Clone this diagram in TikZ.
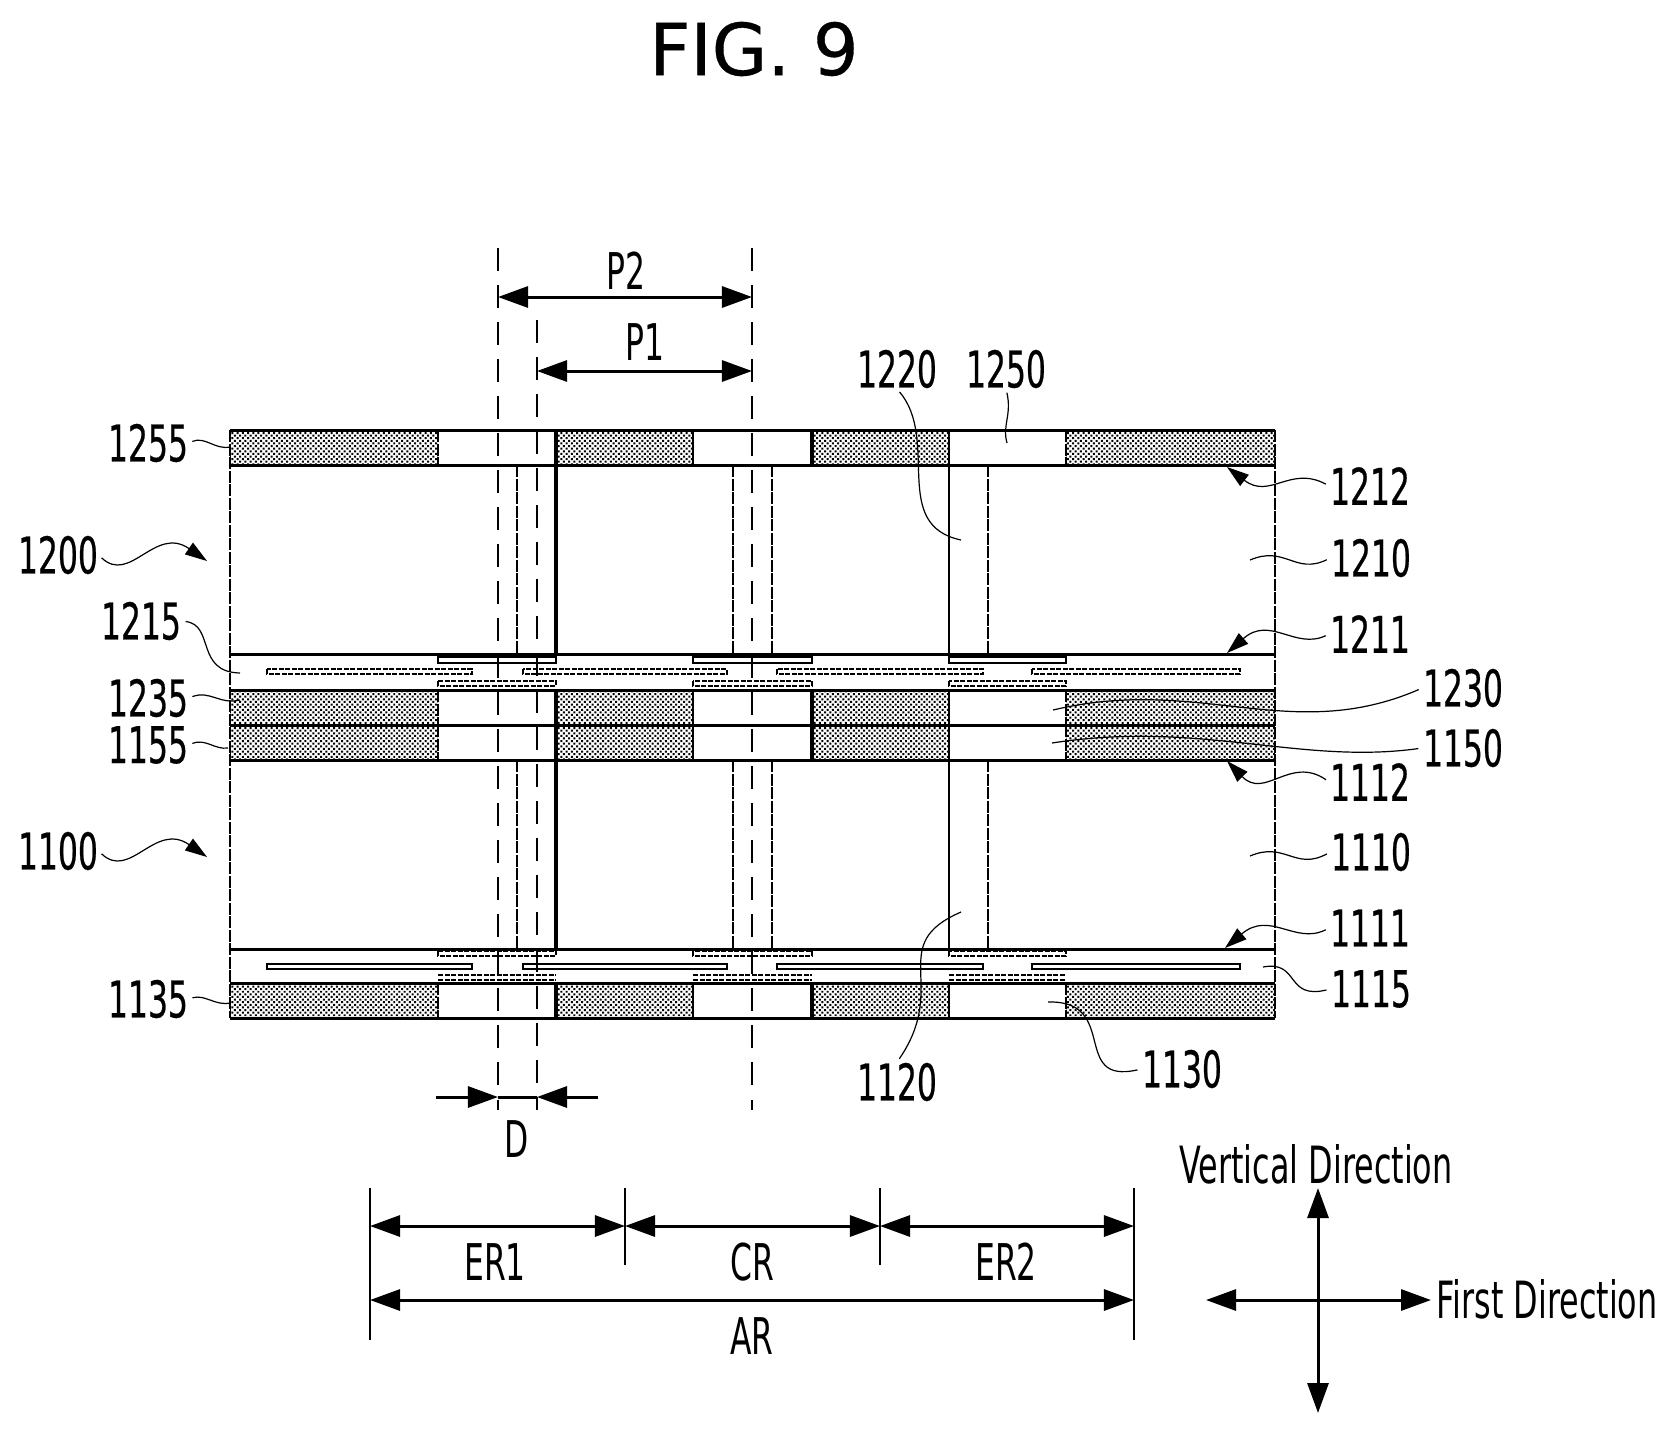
\documentclass[tikz,border=0pt]{standalone}
\usepackage{fontspec}
\usepackage{tikz}
\usetikzlibrary{arrows.meta,patterns.meta}
\setmainfont[FakeStretch=0.62]{DejaVu Sans}
\newfontfamily\numfont[FakeStretch=0.62,FakeBold=0.5]{DejaVu Sans}
\newfontfamily\titlefont[FakeBold=0.5]{DejaVu Sans}
\tikzset{
    bigtip/.tip={Triangle[length=0.3cm,width=0.21cm]},
    smalltip/.tip={Triangle[length=0.22cm,width=0.14cm]},
    lbl/.style={inner sep=0pt, font=\fontsize{14.4}{16}\selectfont},
    numlbl/.style={inner sep=0pt, font=\numfont\fontsize{14.4}{16}\selectfont},
    dirlbl/.style={inner sep=0pt, font=\fontsize{14.6}{16}\selectfont},
    layerline/.style={line width=0.03cm},
    wallthick/.style={line width=0.045cm},
    wallmid/.style={line width=0.032cm},
    wallthin/.style={line width=0.025cm},
    walldash/.style={line width=0.025cm, dash pattern=on 0.12cm off 0.015cm},
    guide/.style={line width=0.016cm, dash pattern=on 0.23cm off 0.14cm},
    dimline/.style={line width=0.03cm},
    tickline/.style={line width=0.022cm},
    leader/.style={line width=0.012cm, shorten <=0.04cm},
    stipple/.style={pattern={Dots[distance=1.05pt,radius=0.4pt,angle=45]}},
    padsolid/.style={line width=0.014cm},
    paddash/.style={line width=0.016cm, dash pattern=on 0.05cm off 0.015cm}
}

\begin{document}
\begin{tikzpicture}[x=0.01cm, y=-0.01cm]
        \useasboundingbox (0,0) rectangle (1676,1433);

        % Title
        \node[inner sep=0pt, font=\titlefont\fontsize{20.4}{24}\selectfont] (title) at (754,49) {FIG. 9};

        % Dotted blocks
        \foreach \ya/\yb in {430/465, 690/725, 725/760, 983/1018} {
            \foreach \xa/\xb in {230/438, 556/693, 812/949, 1066/1275} {
                \fill[stipple] (\xa,\ya) rectangle (\xb,\yb);
            }
            \draw[layerline] (230,\ya) -- (1275,\ya);
            \draw[layerline] (230,\yb) -- (1275,\yb);
            \draw[walldash] (438,\ya) -- (438,\yb);
            \draw[wallthick] (556,\ya) -- (556,\yb);
            \draw[wallthin] (693,\ya) -- (693,\yb);
            \draw[wallmid] (812,\ya) -- (812,\yb);
            \draw[wallthin] (949,\ya) -- (949,\yb);
            \draw[walldash] (1066,\ya) -- (1066,\yb);
        }

        % Body outline
        \draw[layerline] (230,654) -- (1275,654);
        \draw[layerline] (230,949) -- (1275,949);
        \draw[walldash] (230,430) -- (230,1018);
        \draw[walldash] (1275,430) -- (1275,1018);

        % Through vias
        \foreach \ya/\yb in {465/654, 760/949} {
            \draw[walldash] (517,\ya) -- (517,\yb);
            \draw[wallmid] (556,\ya) -- (556,\yb);
            \draw[walldash] (733,\ya) -- (733,\yb);
            \draw[walldash] (772,\ya) -- (772,\yb);
            \draw[wallthin] (949,\ya) -- (949,\yb);
            \draw[walldash] (988,\ya) -- (988,\yb);
        }

        % Pads and bars in the two wiring layers
        \foreach \xa/\xb in {438/556, 693/812, 949/1066} {
            \draw[padsolid] (\xa,657) rectangle (\xb,663);
            \draw[paddash] (\xa,681) rectangle (\xb,686);
            \draw[paddash] (\xa,951) rectangle (\xb,956);
            \draw[paddash] (\xa,975) -- (\xb,975);
            \draw[paddash] (\xa,980) -- (\xb,980);
        }
        \foreach \xa/\xb in {267/472, 523/727, 777/983, 1032/1240} {
            \draw[paddash] (\xa,669) rectangle (\xb,674);
            \draw[padsolid] (\xa,964) rectangle (\xb,969);
        }

        % Pitch lines
        \draw[guide] (498,248) -- (498,1110);
        \draw[guide] (537,320) -- (537,1110);
        \draw[guide] (752,248) -- (752,1110);

        % Pitch and offset
        \coordinate (p2a) at (498,297);
        \coordinate (p2b) at (752,297);
        \coordinate (p1a) at (537,371);
        \coordinate (p1b) at (752,371);
        \coordinate (dleft) at (436,1097);
        \coordinate (dright) at (598,1097);
        \coordinate (da) at (498,1097);
        \coordinate (db) at (537,1097);
        \draw[dimline, {bigtip}-{bigtip}] (p2a) -- (p2b);
        \draw[dimline, {bigtip}-{bigtip}] (p1a) -- (p1b);
        \draw[dimline, -{bigtip}] (dleft) -- (da);
        \draw[dimline, -{bigtip}] (dright) -- (db);
        \draw[dimline] (da) -- (db);
        \node[lbl] (p2) at (626,271) {P2};
        \node[lbl] (p1) at (645,342) {P1};
        \node[lbl] (d) at (517,1139) {D};

        % Regions
        \coordinate (ra) at (370,1226);
        \coordinate (rb) at (625,1226);
        \coordinate (rc) at (880,1226);
        \coordinate (rd) at (1134,1226);
        \coordinate (aa) at (370,1300);
        \coordinate (ab) at (1134,1300);
        \draw[tickline] (370,1188) -- (370,1340);
        \draw[tickline] (1134,1188) -- (1134,1340);
        \draw[tickline] (625,1188) -- (625,1265);
        \draw[tickline] (880,1188) -- (880,1265);
        \draw[dimline, {bigtip}-{bigtip}] (ra) -- (rb);
        \draw[dimline, {bigtip}-{bigtip}] (rb) -- (rc);
        \draw[dimline, {bigtip}-{bigtip}] (rc) -- (rd);
        \draw[dimline, {bigtip}-{bigtip}] (aa) -- (ab);
        \node[lbl] (er1) at (495,1262) {ER1};
        \node[lbl] (cr) at (752,1262) {CR};
        \node[lbl] (er2) at (1006,1262) {ER2};
        \node[lbl] (ar) at (752,1336) {AR};

        % Directions
        \coordinate (dirl) at (1206,1300);
        \coordinate (dirr) at (1431,1300);
        \coordinate (dirt) at (1318,1188);
        \coordinate (dirb) at (1318,1413);
        \draw[dimline, {bigtip}-{bigtip}] (dirl) -- (dirr);
        \draw[dimline, {bigtip}-{bigtip}] (dirt) -- (dirb);
        \node[dirlbl] (vert) at (1316,1164) {Vertical Direction};
        \node[dirlbl] (first) at (1547,1299) {First Direction};

        % Reference numerals
        \foreach \nm/\xx/\yy in {1255/148/443, 1200/58/555, 1215/141/621, 1235/148/698, 1155/148/745,
            1100/58/851, 1135/148/999, 1220/897/369, 1250/1006/369, 1212/1370/486, 1210/1371/558,
            1211/1370/634, 1230/1463/688, 1150/1463/748, 1112/1370/782, 1110/1371/852, 1111/1370/928,
            1115/1371/989, 1130/1182/1069, 1120/897/1082} {
            \node[numlbl] (n\nm) at (\xx,\yy) {\nm};
        }

        % Leader ends
        \coordinate (c1255) at (230,447);
        \coordinate (c1200) at (207,561);
        \coordinate (c1215) at (240,673);
        \coordinate (c1235) at (240,700);
        \coordinate (c1155) at (228,748);
        \coordinate (c1100) at (207,857);
        \coordinate (c1135) at (230,1003);
        \coordinate (c1220) at (961,540);
        \coordinate (c1250) at (1007,443);
        \coordinate (c1212) at (1227,467);
        \coordinate (c1210) at (1250,560);
        \coordinate (c1211) at (1227,653);
        \coordinate (c1230) at (1053,710);
        \coordinate (c1150) at (1052,743);
        \coordinate (c1112) at (1227,761);
        \coordinate (c1110) at (1250,856);
        \coordinate (c1111) at (1225,948);
        \coordinate (c1115) at (1263,967);
        \coordinate (c1130) at (1048,1002);
        \coordinate (c1120) at (961,912);

        % Leaders
        \draw[leader] (n1255.east) .. controls (205,436) and (215,450) .. (c1255);
        \draw[leader, -{smalltip}] (n1200.east) .. controls (130,585) and (155,525) .. (c1200);
        \draw[leader] (n1215.east) .. controls (215,625) and (195,672) .. (c1215);
        \draw[leader] (n1235.east) .. controls (210,690) and (220,705) .. (c1235);
        \draw[leader] (n1155.east) .. controls (205,738) and (215,750) .. (c1155);
        \draw[leader, -{smalltip}] (n1100.east) .. controls (130,881) and (155,821) .. (c1100);
        \draw[leader] (n1135.east) .. controls (205,994) and (215,1006) .. (c1135);
        \draw[leader] (n1220.south) .. controls (940,440) and (890,525) .. (c1220);
        \draw[leader] (n1250.south) .. controls (1012,415) and (1002,425) .. (c1250);
        \draw[leader, -{smalltip}] (n1212.west) .. controls (1290,465) and (1270,500) .. (c1212);
        \draw[leader] (n1210.west) .. controls (1295,575) and (1285,545) .. (c1210);
        \draw[leader, -{smalltip}] (n1211.west) .. controls (1295,650) and (1270,615) .. (c1211);
        \draw[leader] (n1230.west) .. controls (1290,745) and (1200,675) .. (c1230);
        \draw[leader] (n1150.west) .. controls (1300,765) and (1200,720) .. (c1150);
        \draw[leader, -{smalltip}] (n1112.west) .. controls (1290,755) and (1265,800) .. (c1112);
        \draw[leader] (n1110.west) .. controls (1295,871) and (1285,841) .. (c1110);
        \draw[leader, -{smalltip}] (n1111.west) .. controls (1295,945) and (1270,910) .. (c1111);
        \draw[leader] (n1115.west) .. controls (1285,1000) and (1300,960) .. (c1115);
        \draw[leader] (n1130.west) .. controls (1070,1085) and (1120,1000) .. (c1130);
        \draw[leader] (n1120.north) .. controls (950,985) and (885,945) .. (c1120);
    \end{tikzpicture}
\end{document}
